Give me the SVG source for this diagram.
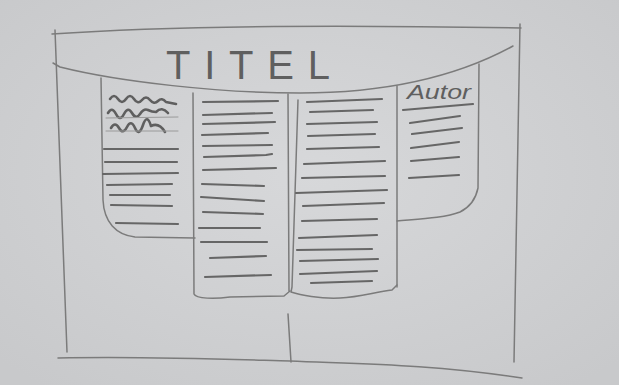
<svg xmlns="http://www.w3.org/2000/svg" width="619" height="385" viewBox="0 0 619 385">
<defs>
<radialGradient id="paper" cx="50%" cy="45%" r="70%">
<stop offset="0" stop-color="#d7d8da"/>
<stop offset="1" stop-color="#c8c9cb"/>
</radialGradient>
<style>
.edge{fill:none;stroke:#7b7b7b;stroke-width:1.5;stroke-linecap:round;stroke-linejoin:round}
.ln{fill:none;stroke:#666;stroke-width:2.2;stroke-linecap:round}
.wv{fill:none;stroke:#5f5f5f;stroke-width:2.6;stroke-linecap:round;stroke-linejoin:round}
.faint{fill:none;stroke:#9a9a9a;stroke-width:1;stroke-linecap:round}
.hand{font-family:"Liberation Sans",Arial,sans-serif;fill:#5f5f5f}
</style>
</defs>
<rect width="619" height="385" fill="url(#paper)"/>
<g id="frame">
<path class="edge" d="M52,34 C150,27 300,24 521,28"/>
<path class="edge" d="M55,30 L67,352"/>
<path class="edge" d="M520,24 L514,362"/>
<path class="edge" d="M58,358 C150,356 250,360 290,361 C360,364 430,364 522,378"/>
</g>
<g id="title">
<path class="edge" d="M53,63 L60,67 C120,82 220,93 300,93 C390,93 460,75 513,46"/>
<text class="hand" x="166" y="79" font-size="40" textLength="164" lengthAdjust="spacing" font-weight="300">TITEL</text>
</g>
<g id="column1">
<path class="edge" d="M101,78 L103,200 C104,222 116,235 135,237 L195,238"/>
<path class="wv" d="M110,99 q4,-6 8,0 t8,0 t8,0 t8,1 t8,0 t8,1 t8,1 l10,2"/>
<path class="wv" d="M108,113 q4,-7 8,1 t8,0 t8,-1 t8,1 t8,-4 t8,2 q6,-6 12,1"/>
<path class="wv" d="M111,128 q4,-7 8,0 t8,-1 t8,1 t8,-3 t8,1 q8,-4 14,6"/>
<path class="faint" d="M106,118 L178,117"/>
<path class="faint" d="M106,131 L178,131"/>
<path class="ln" d="M104,149 L178,149"/>
<path class="ln" d="M105,162 L177,162"/>
<path class="ln" d="M103,174 L178,173"/>
<path class="ln" d="M107,185 L172,184"/>
<path class="ln" d="M110,195 L170,195"/>
<path class="ln" d="M111,205 L172,206"/>
<path class="ln" d="M116,223 L178,224"/>
</g>
<g id="column2">
<path class="edge" d="M193,93 L194,294 C196,299 215,299 230,297 L284,296 L290,291"/>
<path class="edge" d="M288,94 L289,291"/>
<path class="ln" d="M203,102 L278,101"/>
<path class="ln" d="M203,115 L272,113"/>
<path class="ln" d="M203,124 L275,122"/>
<path class="ln" d="M202,135 L268,133"/>
<path class="ln" d="M203,146 L272,145"/>
<path class="ln" d="M204,157 L266,155 L272,154"/>
<path class="ln" d="M203,170 L276,168"/>
<path class="ln" d="M202,184 L264,186"/>
<path class="ln" d="M201,197 L264,201"/>
<path class="ln" d="M203,212 L263,214"/>
<path class="ln" d="M199,228 L260,228"/>
<path class="ln" d="M201,242 L267,242"/>
<path class="ln" d="M210,258 L266,256"/>
<path class="ln" d="M205,277 L271,275"/>
</g>
<g id="column3">
<path class="edge" d="M298,100 L292,287 L291,292 C300,295 320,299 340,298 C360,297 375,292 392,290 L397,285"/>
<path class="edge" d="M397,86 L397,287"/>
<path class="ln" d="M307,102 L382,99"/>
<path class="ln" d="M310,112 L373,110"/>
<path class="ln" d="M307,124 L377,122"/>
<path class="ln" d="M308,136 L375,134"/>
<path class="ln" d="M307,149 L379,147"/>
<path class="ln" d="M304,164 L385,161"/>
<path class="ln" d="M302,178 L385,176"/>
<path class="ln" d="M296,193 L387,190"/>
<path class="ln" d="M303,206 L384,203"/>
<path class="ln" d="M302,221 L377,219"/>
<path class="ln" d="M299,238 L377,235"/>
<path class="ln" d="M297,250 L372,249"/>
<path class="ln" d="M300,261 L378,259"/>
<path class="ln" d="M300,274 L377,271"/>
<path class="ln" d="M311,283 L372,281"/>
</g>
<g id="column4">
<path class="edge" d="M397,221 C420,219 445,218 460,212 C470,207 476,198 478,188 L479,64"/>
<text class="hand" x="407" y="99" font-size="20" font-style="italic" textLength="64" lengthAdjust="spacingAndGlyphs">Autor</text>
<path class="ln" d="M403,110 L473,104"/>
<path class="ln" d="M410,123 L460,116"/>
<path class="ln" d="M412,134 L462,128"/>
<path class="ln" d="M411,148 L459,142"/>
<path class="ln" d="M411,161 L459,157"/>
<path class="ln" d="M409,178 L459,175"/>
</g>
<g id="connectors">
<path class="edge" d="M288,314 L291,362"/>
</g>
</svg>
